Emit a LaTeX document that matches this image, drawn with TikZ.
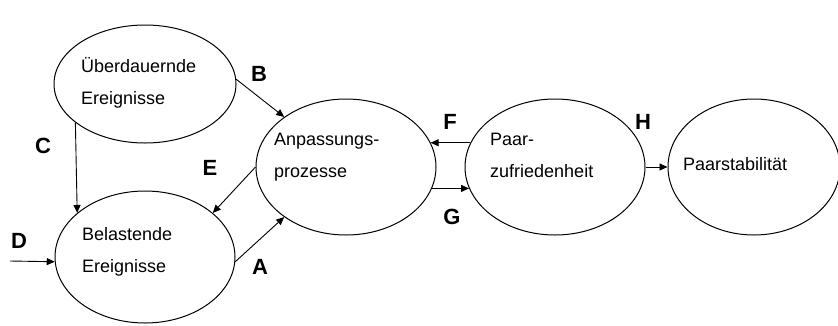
\documentclass[tikz,border=0pt]{standalone}
\usepackage{fontspec}
\setmainfont{Liberation Sans}
\usetikzlibrary{shapes.geometric,arrows.meta}

\begin{document}
\begin{tikzpicture}[x=1pt,y=-1pt]
\tikzstyle{blob}=[draw,shape=ellipse,line width=1pt,inner sep=0pt]
\tikzstyle{word}=[anchor=base west,align=left,inner sep=0pt,font=\fontsize{18}{31.5}\selectfont]
\tikzstyle{letter}=[font=\fontsize{22}{25}\selectfont\bfseries]
\tikzstyle{link}=[line width=0.9pt,-{Triangle[length=8pt,width=7pt]}]
\useasboundingbox (0,0) rectangle (838,325);

\path (145,84) node[blob,minimum width=182pt,minimum height=118pt](ueber){}
      (145,257) node[blob,minimum width=180pt,minimum height=132pt](bel){}
      (346,167) node[blob,minimum width=180pt,minimum height=136pt](anp){}
      (555,167) node[blob,minimum width=180pt,minimum height=136pt](zuf){}
      (754,167) node[blob,minimum width=172pt,minimum height=136pt](stab){};

\path (81,104) node[word](ueber-t){Überdauernde\\Ereignisse}
      (82,272) node[word](bel-t){Belastende\\Ereignisse}
      (274,177) node[word](anp-t){Anpassungs-\\prozesse}
      (490,177) node[word](zuf-t){Paar-\\zufriedenheit}
      (683,170) node[word](stab-t){Paarstabilität};

\coordinate (dsrc) at (10,261);

\draw[link] (bel.-3) -- (anp.219);
\draw[link] (ueber.3) -- (anp.141);
\draw[link] (ueber.209) -- (bel.147);
\draw[link] (dsrc) -- (bel.183);
\draw[link] (anp.180) -- (bel.33);
\draw[link] (zuf.164) -- (anp.16);
\draw[link] (anp.-14) -- (zuf.194);
\draw[link] (zuf.0) -- (stab.180);

\path (260,267) node[letter](la){A}
      (259,74) node[letter](lb){B}
      (43,146) node[letter](lc){C}
      (19,241) node[letter](ld){D}
      (210,168) node[letter](le){E}
      (450,122) node[letter](lf){F}
      (452,217) node[letter](lg){G}
      (643,122) node[letter](lh){H};
\end{tikzpicture}
\end{document}
